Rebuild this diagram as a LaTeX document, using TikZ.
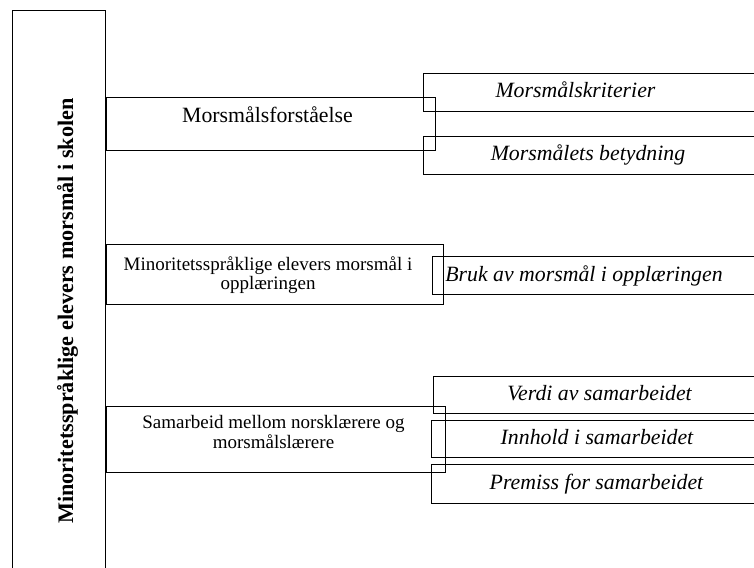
\documentclass[tikz,border=0pt]{standalone}
\usepackage{fontspec}
\setmainfont{Liberation Serif}
\begin{document}
\begin{tikzpicture}[x=1pt,y=-1pt,
  box/.style={draw,line width=0.9pt,anchor=north west,inner sep=0pt},
  rbox/.style={box,minimum width=340pt},
  lab/.style={anchor=base,inner sep=0pt,font=\fontsize{19}{19.2}\selectfont,align=center},
  ilab/.style={anchor=base,inner sep=0pt,font=\itshape\fontsize{21.8}{24}\selectfont}]
  \path[use as bounding box,clip] (0,0) rectangle (754,567);
  % main box
  \node[box,minimum width=93pt,minimum height=580pt] at (12,10) (hoved) {};
  \node[anchor=base,rotate=90,inner sep=0pt,font=\bfseries\fontsize{22.2}{24}\selectfont] at (73,311) (tittel) {Minoritetsspråklige elevers morsmål i skolen};
  % themes
  \node[box,minimum width=329pt,minimum height=52.5pt] at (105.5,97.3) (forst) {};
  \node[lab,font=\fontsize{21.8}{24}\selectfont] at (267.5,122.7) (forsttxt) {Morsmålsforståelse};
  \node[box,minimum width=337.5pt,minimum height=60pt] at (105.5,244.3) (oppl) {};
  \node[lab] at (268,289.5) (oppltxt) {Minoritetsspråklige elevers morsmål i\\opplæringen};
  \node[box,minimum width=339pt,minimum height=66pt] at (105.5,406) (samarb) {};
  \node[lab] at (273.5,448) (samarbtxt) {Samarbeid mellom norsklærere og\\morsmålslærere};
  % subthemes
  \node[rbox,minimum height=38pt] at (422.7,72.7) (krit) {};
  \node[ilab] at (575.5,97.5) (krittxt) {Morsmålskriterier};
  \node[rbox,minimum height=38.3pt] at (422.7,136) (betyd) {};
  \node[ilab] at (588,160) (betydtxt) {Morsmålets betydning};
  \node[rbox,minimum height=38.3pt] at (431.7,255.7) (bruk) {};
  \node[ilab] at (584,281.5) (bruktxt) {Bruk av morsmål i opplæringen};
  \node[rbox,minimum height=37.3pt] at (433.3,376) (verdi) {};
  \node[ilab] at (599.5,400) (verditxt) {Verdi av samarbeidet};
  \node[rbox,minimum height=37.3pt] at (430.7,420) (innh) {};
  \node[ilab] at (597,444.5) (innhtxt) {Innhold i samarbeidet};
  \node[rbox,minimum height=38.7pt] at (430.7,464) (prem) {};
  \node[ilab] at (596.5,489.8) (premtxt) {Premiss for samarbeidet};
\end{tikzpicture}
\end{document}
